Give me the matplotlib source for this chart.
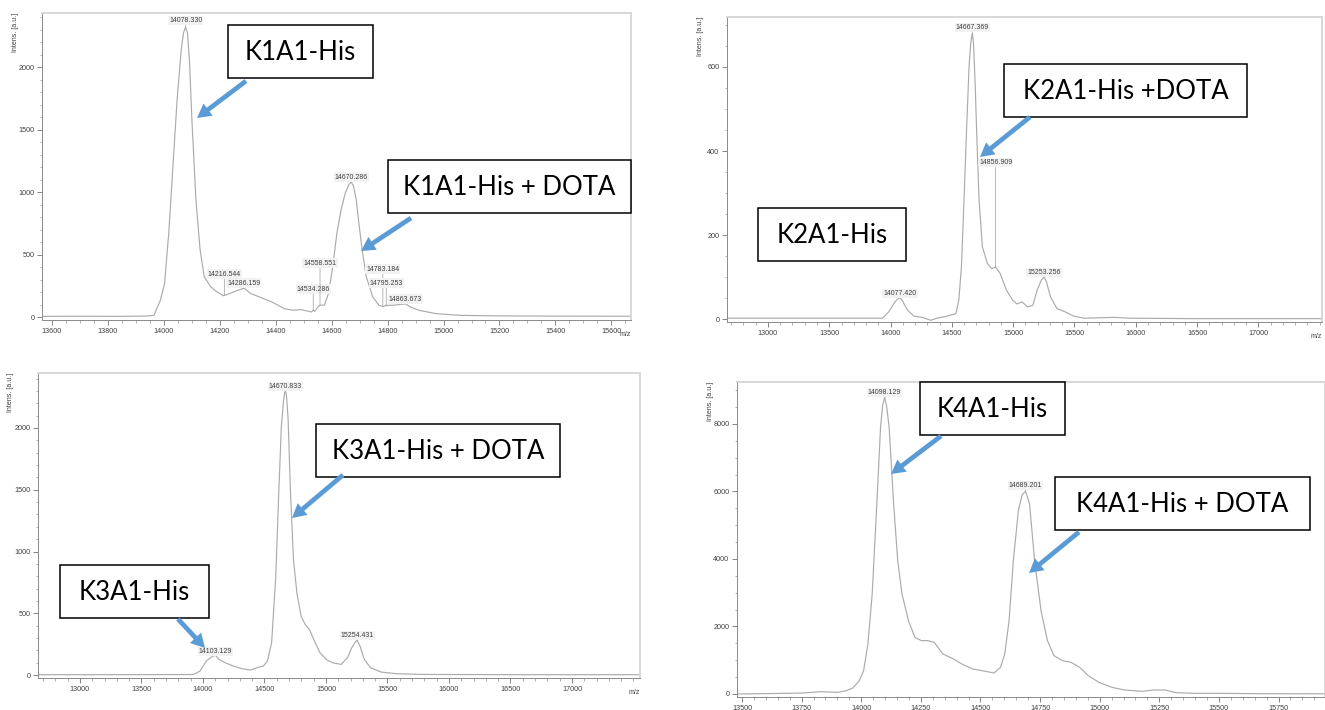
import matplotlib.pyplot as plt
import numpy as np
from matplotlib.patches import Rectangle, FancyArrowPatch
from matplotlib.ticker import MultipleLocator, FixedLocator

# ---- spectra (m/z, intensity in a.u.) ----
k1_mz = [13565, 13700, 13850, 13940, 13965, 13988, 14003, 14018, 14033, 14048, 14063, 14071, 14078,
         14085, 14092, 14100, 14115, 14130, 14145, 14168, 14190, 14213, 14236, 14266, 14288, 14311,
         14341, 14386, 14431, 14461, 14491, 14529, 14534, 14540, 14551, 14558, 14574, 14589,
         14604, 14619, 14634, 14649, 14662, 14670, 14678, 14688, 14697, 14709, 14724, 14747, 14769, 14783,
         14795, 14822, 14852, 14864, 14882, 14912, 14972, 15062, 15200, 15400, 15670]
k1_int = [5, 6, 5, 8, 13, 134, 268, 671, 1208, 1745, 2148, 2275, 2320,
          2270, 2050, 1611, 940, 537, 322, 242, 201, 170, 188, 215, 230, 188,
          161, 121, 67, 54, 59, 40, 55, 45, 80, 95, 94, 188,
          403, 671, 859, 993, 1060, 1080, 1050, 940, 760, 537, 322, 161, 94, 85,
          92, 94, 102, 105, 80, 54, 27, 13, 9, 7, 6]
k1_peaks = [14078.330, 14216.544, 14286.159, 14534.286, 14558.551,
            14670.286, 14783.184, 14795.253, 14863.673]
k1_lab_y = [2370, 344, 272, 224, 432, 1120, 384, 272, 144]

k2_mz = [12666, 13200, 13700, 13933, 13985, 14036, 14060, 14077, 14092, 14110, 14139, 14190, 14259, 14328,
         14379, 14448, 14499, 14533, 14557, 14578, 14599, 14619, 14640, 14655, 14667, 14677,
         14690, 14705, 14722, 14749, 14790, 14825, 14857, 14893, 14945, 14996, 15031, 15072, 15117,
         15161, 15196, 15230, 15253, 15271, 15305, 15357, 15425, 15494, 15580, 15820, 15957,
         16500, 17519]
k2_int = [2, 2, 2, 2, 17, 41, 48, 50, 46, 36, 21, 7, 4, -3,
          2, 6, 10, 13, 45, 124, 283, 442, 600, 660, 680, 655,
          560, 420, 283, 172, 132, 120, 124, 109, 69, 45, 36, 41, 29,
          33, 69, 93, 100, 89, 53, 25, 17, 7, 2, 4, 2,
          1, 1]
k2_peaks = [14667.369, 14856.909, 14077.420, 15253.256]
k2_lab_y = [693, 372, 61, 110]

k3_mz = [12659, 13300, 13900, 13925, 13976, 14027, 14079, 14103, 14130, 14182, 14250, 14318,
         14387, 14438, 14490, 14524, 14558, 14592, 14616, 14637, 14655, 14664, 14671, 14679, 14692, 14712,
         14736, 14764, 14798, 14832, 14866, 14901, 14952, 15003, 15055, 15123, 15175, 15209,
         15243, 15254, 15277, 15312, 15363, 15449, 15568, 15774, 16500, 17553]
k3_int = [3, 3, 4, 5, 32, 113, 153, 158, 126, 99, 72, 51,
          40, 59, 72, 113, 260, 797, 1468, 2005, 2220, 2285, 2300, 2260, 2080, 1468,
          932, 663, 475, 408, 368, 287, 180, 126, 99, 86, 140, 220,
          274, 280, 234, 126, 59, 24, 11, 5, 3, 3]
k3_peaks = [14670.833, 14103.129, 15254.431]
k3_lab_y = [2333, 188, 319]

k4_mz = [13479, 13687, 13758, 13830, 13866, 13902, 13938, 13965, 13992, 14010, 14028, 14046,
         14064, 14081, 14090, 14098, 14106, 14117, 14135, 14153, 14171, 14198, 14225, 14252, 14279, 14306,
         14342, 14387, 14422, 14467, 14521, 14557, 14584, 14602, 14620, 14638, 14659, 14675,
         14689, 14706, 14727, 14754, 14781, 14808, 14844, 14880, 14916, 14952, 14997, 15051,
         15104, 15176, 15230, 15275, 15320, 15392, 15481, 15661, 15945]
k4_int = [0, 20, 30, 69, 59, 49, 99, 178, 395, 691, 1481, 2963,
          5432, 7901, 8550, 8790, 8550, 7901, 5728, 3951, 2963, 2173, 1679, 1580, 1580, 1531,
          1185, 1037, 889, 741, 672, 622, 790, 1185, 2173, 3951, 5432, 5900,
          6005, 5630, 3951, 2469, 1580, 1136, 988, 938, 790, 543, 346, 198,
          119, 79, 119, 119, 40, 20, 20, 10, 5]
k4_peaks = [14098.129, 14689.201]
k4_lab_y = [8919, 6173]

# annotation boxes (pixel layout in the 1325x710 image) and blue arrows
box_text = ["K1A1-His", "K1A1-His + DOTA", "K2A1-His +DOTA", "K2A1-His",
            "K3A1-His + DOTA", "K3A1-His", "K4A1-His", "K4A1-His + DOTA"]
box_px = [(228, 25, 373, 78), (388, 160, 631, 213), (1004, 64, 1247, 117), (758, 208, 906, 261),
          (316, 424, 560, 477), (60, 565, 209, 618), (920, 382, 1065, 435), (1055, 477, 1310, 530)]
arrows_px = [((246, 81), (197, 118)), ((411, 218), (361, 251)), ((1030, 117), (980, 157)),
             ((343, 475), (292, 518)), ((178, 619), (205, 648)), ((941, 436), (891, 474)),
             ((1079, 532), (1029, 573))]

panels = [
    dict(mz=k1_mz, y=k1_int, peaks=k1_peaks, laby=k1_lab_y, px=(42, 13, 631, 320),
         xlim=(13565, 15670), ylim=(-24, 2432), xticks=np.arange(13600, 15601, 200), xmin=50,
         ymaj=500, ymin=100, mzlab=True),
    dict(mz=k2_mz, y=k2_int, peaks=k2_peaks, laby=k2_lab_y, px=(727, 17, 1322, 322),
         xlim=(12666, 17519), ylim=(-7, 719), xticks=np.arange(13000, 17001, 500), xmin=100,
         ymaj=200, ymin=50, mzlab=True),
    dict(mz=k3_mz, y=k3_int, peaks=k3_peaks, laby=k3_lab_y, px=(38, 373, 640, 678),
         xlim=(12659, 17553), ylim=(-24, 2445), xticks=np.arange(13000, 17001, 500), xmin=100,
         ymaj=500, ymin=100, mzlab=True),
    dict(mz=k4_mz, y=k4_int, peaks=k4_peaks, laby=k4_lab_y, px=(737, 382, 1325, 697),
         xlim=(13479, 15945), ylim=(-89, 9240), xticks=np.arange(13500, 15751, 250), xmin=50,
         ymaj=2000, ymin=500, mzlab=False),
]

W, H = 1325, 710
fig = plt.figure(figsize=(W / 100, H / 100), dpi=100)
fig.patch.set_facecolor('white')
plt.rcParams['font.family'] = ['Liberation Sans', 'DejaVu Sans']

for p in panels:
    l, t, r, b = p['px']
    ax = fig.add_axes([l / W, 1 - b / H, (r - l) / W, (b - t) / H])
    ax.plot(p['mz'], p['y'], color='#ababab', lw=0.85)
    ax.set_xlim(p['xlim'])
    ax.set_ylim(p['ylim'])
    ax.xaxis.set_major_locator(FixedLocator(p['xticks']))
    ax.xaxis.set_minor_locator(MultipleLocator(p['xmin']))
    ax.yaxis.set_major_locator(MultipleLocator(p['ymaj']))
    ax.yaxis.set_minor_locator(MultipleLocator(p['ymin']))
    ax.tick_params(which='major', length=3.5, width=0.6, color='#707070',
                   labelsize=5.2, labelcolor='#404040', pad=2)
    ax.tick_params(which='minor', length=1.8, width=0.5, color='#909090')
    for s in ['top', 'right']:
        ax.spines[s].set_color('#d8d8d8')
        ax.spines[s].set_linewidth(1.4)
    for s in ['left', 'bottom']:
        ax.spines[s].set_color('#8a8a8a')
        ax.spines[s].set_linewidth(0.7)
    ax.text(-0.045, 1.0, 'Intens. [a.u.]', transform=ax.transAxes, rotation=90,
            ha='center', va='top', fontsize=5, color='#404040')
    if p['mzlab']:
        ax.text(1.0, -0.035, 'm/z', transform=ax.transAxes, ha='right', va='top',
                fontsize=5, color='#404040')
    # peak labels with thin connectors down to the trace
    for pk, ly in zip(p['peaks'], p['laby']):
        base = np.interp(pk, p['mz'], p['y'])
        ax.annotate(f'{pk:.3f}', xy=(pk, base), xytext=(pk, ly), ha='center', va='center',
                    fontsize=5, color='#404040',
                    bbox=dict(boxstyle='square,pad=0.15', fc='#f2f2f2', ec='none'),
                    arrowprops=dict(arrowstyle='-', color='#9a9a9a', lw=0.5,
                                    shrinkA=0, shrinkB=0))

# overlay for callout boxes and arrows
ov = fig.add_axes([0, 0, 1, 1], zorder=10)
ov.set_xlim(0, W)
ov.set_ylim(H, 0)
ov.axis('off')
ov.patch.set_alpha(0)

for (x0, y0, x1, y1), txt in zip(box_px, box_text):
    ov.add_patch(Rectangle((x0, y0), x1 - x0, y1 - y0, fc='white', ec='black', lw=1.1))
    ov.text((x0 + x1) / 2, (y0 + y1) / 2 + 1, txt, ha='center', va='center',
            fontsize=18.5, family='Lato', color='black')

for tail, head in arrows_px:
    ov.add_patch(FancyArrowPatch(tail, head, arrowstyle='simple,head_width=11,head_length=10,tail_width=3.4',
                                 mutation_scale=1, color='#5b9bd5', lw=0, shrinkA=0, shrinkB=0))

fig.savefig('out.png', dpi=100)
